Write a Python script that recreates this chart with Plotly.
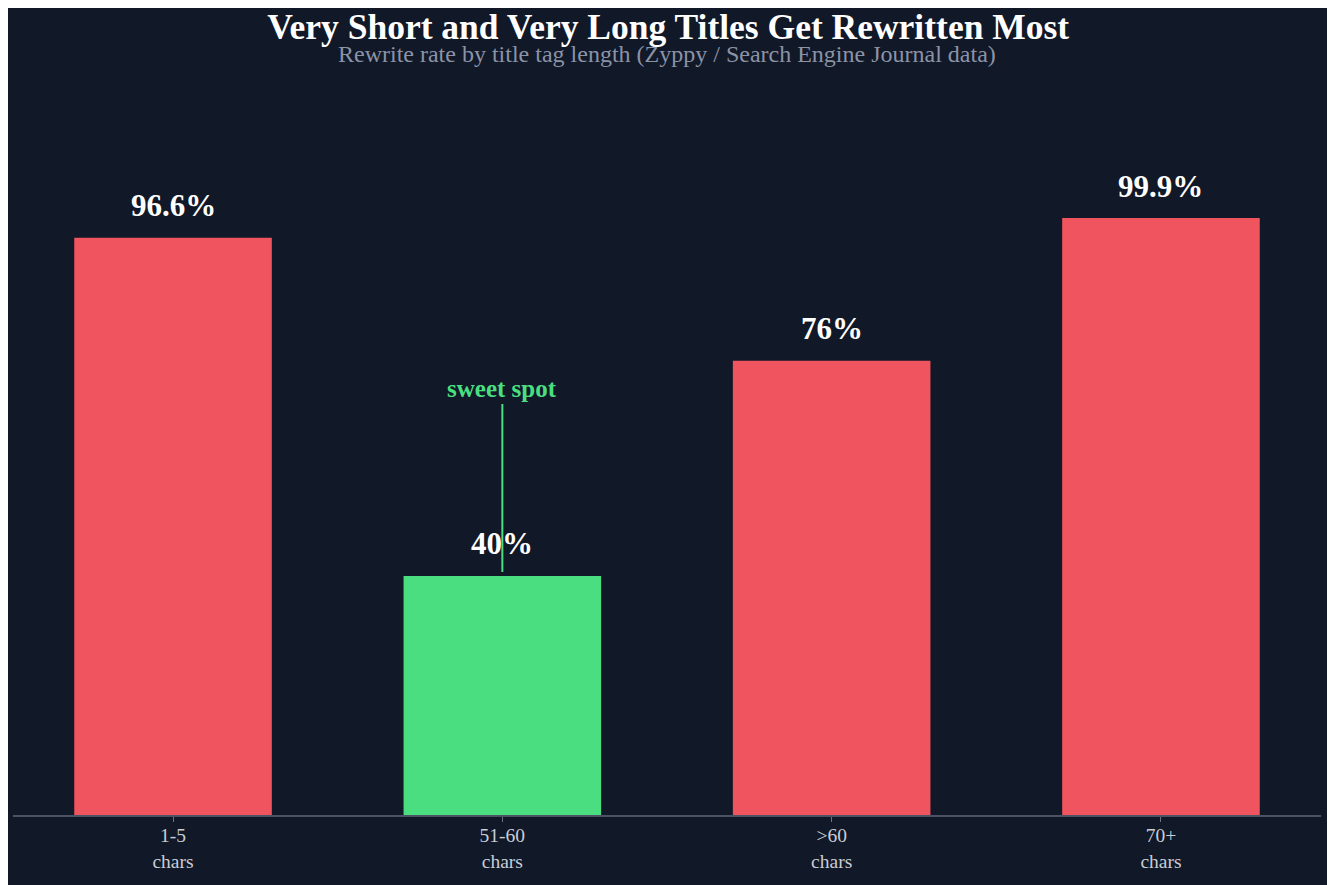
import plotly.graph_objects as go

categories = ["1-5<br>chars", "51-60<br>chars", ">60<br>chars", "70+<br>chars"]
rewrite_rate = [96.6, 40, 76, 99.9]
value_labels = ["96.6%", "40%", "76%", "99.9%"]
highlight = "51-60<br>chars"

RED = "#f0555f"
GREEN = "#4ade80"
BG = "#111827"
FONT = "Liberation Serif, Times New Roman, serif"

bar_colors = [GREEN if c == highlight else RED for c in categories]

fig = go.Figure()
fig.add_trace(go.Bar(
    x=categories,
    y=rewrite_rate,
    marker=dict(color=bar_colors, line=dict(width=0)),
    width=0.6,
    hoverinfo="skip",
))

# value labels above each bar
for cat, val, lab in zip(categories, rewrite_rate, value_labels):
    fig.add_annotation(
        x=cat, y=val, text="<b>%s</b>" % lab, showarrow=False,
        yanchor="middle", yshift=32,
        font=dict(family=FONT, size=31, color="#ffffff"),
    )

# sweet spot callout
fig.add_annotation(
    x=highlight, y=rewrite_rate[categories.index(highlight)],
    text="<b>sweet spot</b>", showarrow=True, arrowhead=0,
    arrowwidth=2, arrowcolor=GREEN, standoff=4,
    ax=0, ay=-187,
    font=dict(family=FONT, size=25, color=GREEN),
)

# subtitle
fig.add_annotation(
    xref="paper", yref="paper", x=0.5, y=1.1045,
    text="Rewrite rate by title tag length (Zyppy / Search Engine Journal data)",
    showarrow=False, yanchor="middle",
    font=dict(family=FONT, size=24, color="#8b93a7"),
)

fig.update_layout(
    width=1335, height=885,
    paper_bgcolor=BG, plot_bgcolor=BG,
    margin=dict(l=5, r=22, t=118, b=78),
    showlegend=False,
    title=dict(
        text="<b>Very Short and Very Long Titles Get Rewritten Most</b>",
        x=0.4945, xanchor="center", y=1 - 19 / 885, yanchor="middle",
        font=dict(family=FONT, size=35.5, color="#ffffff"),
    ),
    font=dict(family=FONT),
)

fig.update_xaxes(
    range=[-0.486, 3.486],
    showline=True, linecolor="#4b5263", linewidth=2,
    ticks="outside", ticklen=5, tickcolor="#6b7280", tickwidth=1,
    ticklabelstandoff=-3,
    tickfont=dict(family=FONT, size=19.5, color="#c9cdd6"),
    showgrid=False, zeroline=False,
)
fig.update_yaxes(
    range=[0, 115.3], visible=False, showgrid=False, zeroline=False,
)

fig.write_html("out.html")
